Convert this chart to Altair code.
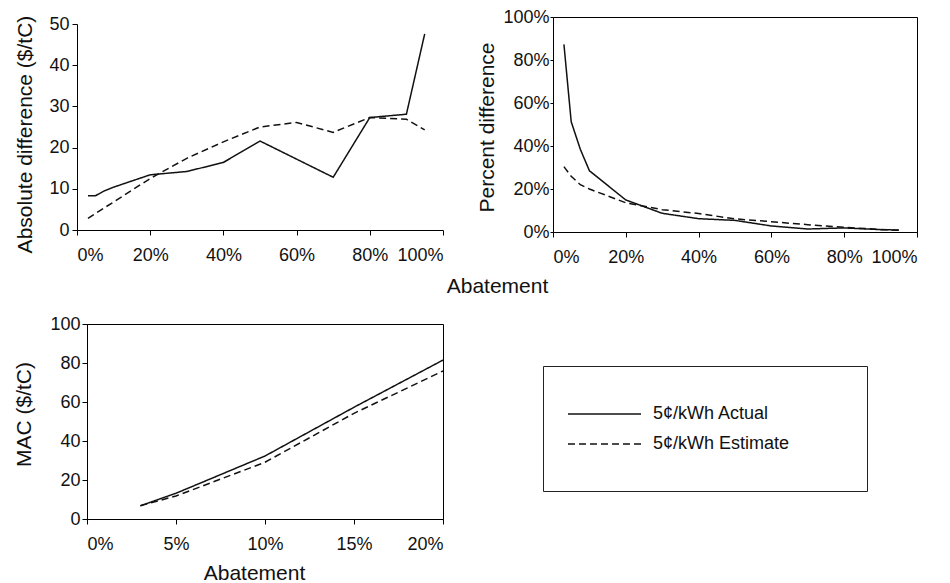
import altair as alt
import pandas as pd

# ---------------- data ----------------
series_names = ["5¢/kWh Actual", "5¢/kWh Estimate"]

abatement = [3, 5, 7.5, 10, 20, 30, 40, 50, 60, 70, 80, 90, 95]
abs_actual = [8.3, 8.3, 9.5, 10.4, 13.4, 14.2, 16.4, 21.6, 17.2, 12.8, 27.3, 28.1, 47.6]
abs_estimate = [2.8, 4.0, 5.4, 6.8, 12.5, 17.4, 21.4, 25.0, 26.1, 23.7, 27.3, 26.9, 24.3]
pct_actual = [87.3, 51.3, 38.5, 28.5, 14.9, 8.7, 6.2, 5.4, 2.8, 1.4, 1.9, 1.1, 0.9]
pct_estimate = [30.4, 25.9, 22.0, 20.0, 13.6, 10.4, 8.6, 6.1, 4.8, 3.4, 2.2, 1.2, 0.8]

mac_abatement = [3, 5, 10, 15, 20]
mac_actual = [6.8, 13.2, 32.3, 57.3, 81.5]
mac_estimate = [6.8, 11.8, 29.1, 54.2, 75.9]

abs_ticks = [0, 10, 20, 30, 40, 50]
pct_ticks = [0, 20, 40, 60, 80, 100]
pct_x_ticks = [0, 20, 40, 60, 80, 100]
mac_ticks = [0, 20, 40, 60, 80, 100]
mac_x_ticks = [0, 5, 10, 15, 20]


def long_df(xs, a, e):
    return pd.DataFrame({
        "x": list(xs) + list(xs),
        "y": list(a) + list(e),
        "series": [series_names[0]] * len(xs) + [series_names[1]] * len(xs),
    })


df_abs = long_df(abatement, abs_actual, abs_estimate)
df_pct = long_df(abatement, pct_actual, pct_estimate)
df_mac = long_df(mac_abatement, mac_actual, mac_estimate)

FONT = "Liberation Sans"
PCT = "datum.value + '%'"

# Legend box: an invisible right-side title widens the framed box.
dash = alt.StrokeDash(
    "series:N",
    scale=alt.Scale(domain=series_names, range=[[1, 0], [7, 4]]),
    legend=alt.Legend(
        orient="none", legendX=456, legendY=349,
        title="MMMM", titleOrient="right", titleFontSize=12, titlePadding=0,
        titleOpacity=0, titleColor="#ffffff", titleFont=FONT,
        symbolType="M-2.556,0L5.556,0", symbolSize=324, symbolStrokeWidth=1.5,
        symbolStrokeColor="#111111", labelFont=FONT, labelFontSize=18,
        labelColor="#111111", labelOffset=52, rowPadding=11, padding=38,
        labelLimit=400, strokeColor="#222222", fillColor="#ffffff",
    ),
)


def xaxis(values, title=None, **kw):
    return alt.Axis(values=values, labelExpr=PCT, title=title, labelPadding=11, **kw)


LINE = dict(strokeWidth=1.5, color="#111111")

# Panel A: absolute difference (no frame); view 87..443 x 17..232,
# data area 77..443 x 24..230
chart_a = alt.Chart(df_abs).mark_line(**LINE).encode(
    x=alt.X("x:Q", scale=alt.Scale(domain=[0, 100], nice=False, range=[-10, 356]),
            axis=xaxis(pct_x_ticks, "Abatement", offset=-2, titleX=410, titleY=62,
                       titleBaseline="alphabetic", titleAlign="center")),
    y=alt.Y("y:Q", scale=alt.Scale(domain=[0, 50], nice=False, range=[213, 7]),
            axis=alt.Axis(values=abs_ticks, title="Absolute difference ($/tC)", offset=10,
                          titleX=-46, titleY=117, titleBaseline="alphabetic",
                          titleAlign="center", labelPadding=3)),
    strokeDash=dash,
).properties(width=356, height=215)

# Panel B: percent difference (framed)
chart_b = alt.Chart(df_pct).mark_line(**LINE).encode(
    x=alt.X("x:Q", scale=alt.Scale(domain=[0, 100], nice=False),
            axis=xaxis(pct_x_ticks)),
    y=alt.Y("y:Q", scale=alt.Scale(domain=[0, 100], nice=False),
            axis=alt.Axis(values=pct_ticks, labelExpr=PCT, title="Percent difference",
                          titleX=-60, titleY=110, titleBaseline="alphabetic",
                          titleAlign="center", labelPadding=1, tickSize=3)),
    strokeDash=dash,
).properties(width=364, height=215, view=alt.ViewBackground(stroke="#000000", strokeWidth=1))

# Panel C: MAC (framed)
chart_c = alt.Chart(df_mac).mark_line(**LINE).encode(
    x=alt.X("x:Q", scale=alt.Scale(domain=[0, 20], nice=False),
            axis=xaxis(mac_x_ticks, "Abatement", titleX=167, titleY=60,
                       titleBaseline="alphabetic", titleAlign="center")),
    y=alt.Y("y:Q", scale=alt.Scale(domain=[0, 100], nice=False),
            axis=alt.Axis(values=mac_ticks, title="MAC ($/tC)", titleX=-57, titleY=90,
                          titleBaseline="alphabetic", titleAlign="center", labelPadding=2)),
    strokeDash=dash,
).properties(width=356, height=195, view=alt.ViewBackground(stroke="#000000", strokeWidth=1))

chart = alt.concat(
    chart_a, chart_b, chart_c, columns=2,
    spacing={"row": 92, "column": 110}, bounds="flush",
).properties(
    padding={"left": 87, "top": 17, "right": 863, "bottom": 566},
    autosize=alt.AutoSizeParams(type="none"),
    background="#ffffff",
).configure_view(stroke=None).configure_axis(
    grid=False, domainColor="#000000", tickColor="#000000", labelColor="#111111",
    titleColor="#111111", labelFont=FONT, titleFont=FONT, labelFontSize=18,
    titleFontSize=21, titleFontWeight="normal", tickSize=5, domainWidth=1,
    tickWidth=1,
)

chart.save("out.html", embed_options={"renderer": "svg", "actions": False})
